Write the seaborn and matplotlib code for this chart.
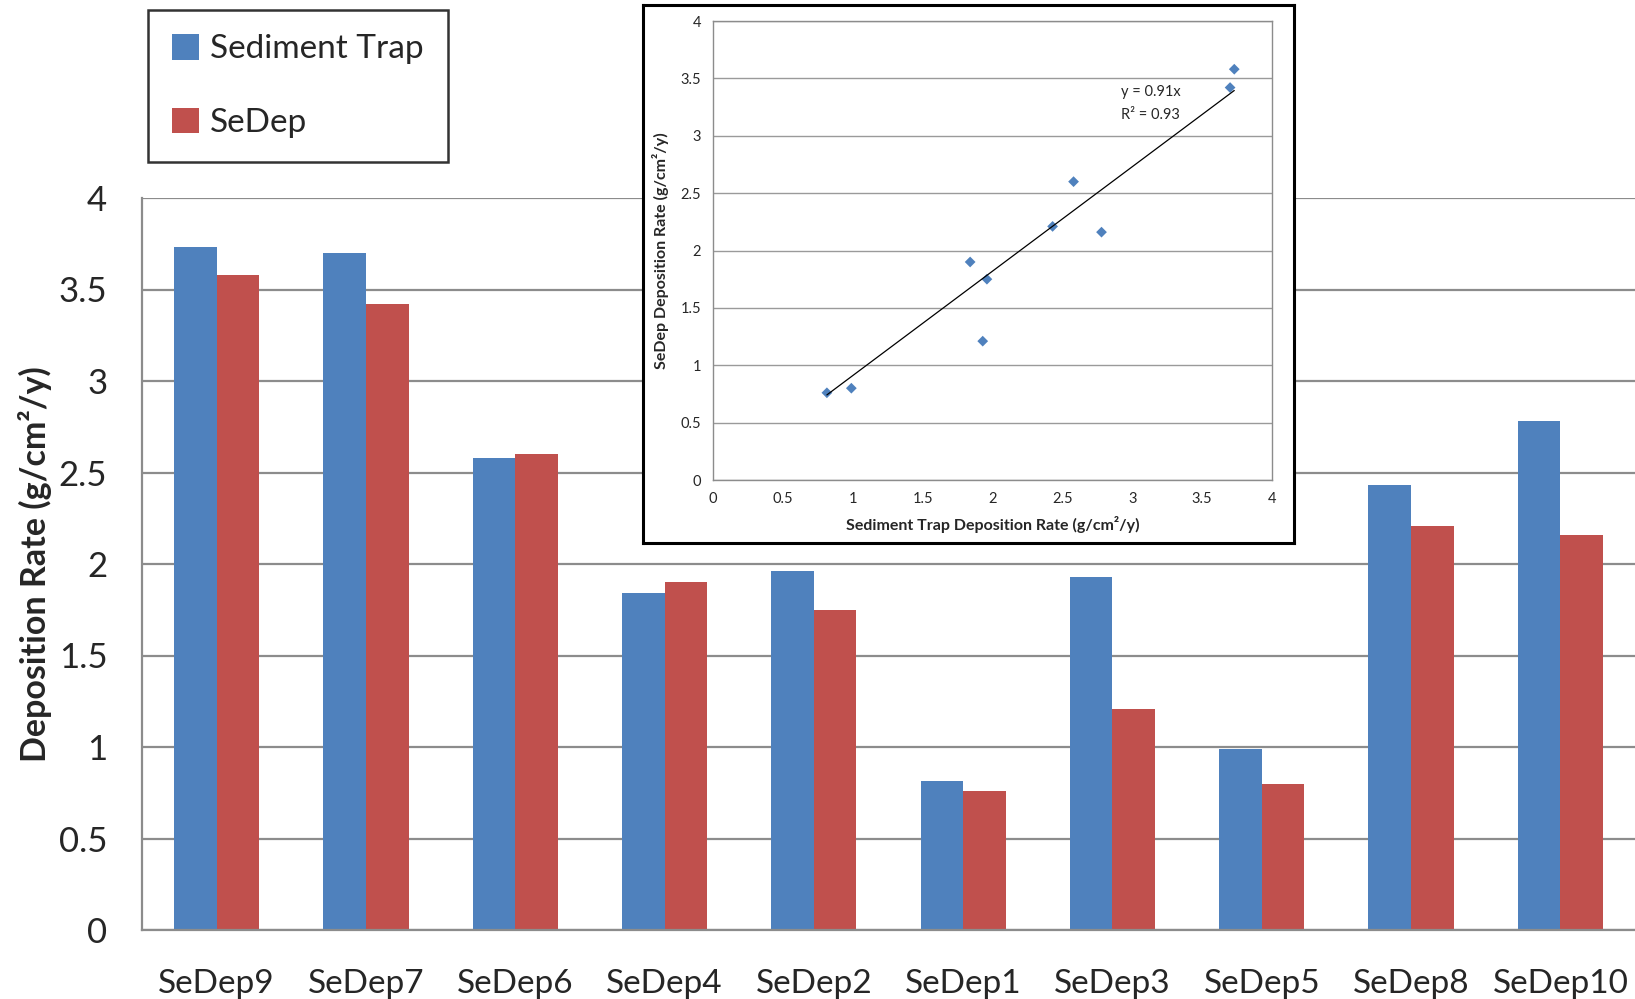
import matplotlib
matplotlib.use("Agg")
import matplotlib.pyplot as plt
import seaborn as sns
import pandas as pd
import numpy as np
from matplotlib.patches import Patch

sites = ["SeDep9", "SeDep7", "SeDep6", "SeDep4", "SeDep2",
         "SeDep1", "SeDep3", "SeDep5", "SeDep8", "SeDep10"]
sediment_trap = [3.73, 3.70, 2.58, 1.84, 1.96, 0.815, 1.93, 0.99, 2.43, 2.78]
sedep = [3.58, 3.42, 2.60, 1.90, 1.75, 0.76, 1.21, 0.80, 2.21, 2.16]
series_names = ["Sediment Trap", "SeDep"]
colors = ["#4F81BD", "#C0504D"]
y_ticks = [0, 0.5, 1, 1.5, 2, 2.5, 3, 3.5, 4]
fit_slope = 0.91
fit_r2 = 0.93

sns.set_style("white")
plt.rcParams["font.family"] = ["Lato", "DejaVu Sans"]

df = pd.DataFrame({
    "site": sites * 2,
    "rate": sediment_trap + sedep,
    "series": [series_names[0]] * len(sites) + [series_names[1]] * len(sites),
})

W, H = 1635, 999
fig = plt.figure(figsize=(W / 100, H / 100), dpi=100)

def fig_rect(x0, y0, x1, y1):
    return [x0 / W, (H - y1) / H, (x1 - x0) / W, (y1 - y0) / H]

ax = fig.add_axes(fig_rect(142, 198, 1635, 930))
sns.barplot(data=df, x="site", y="rate", hue="series", palette=colors,
            width=0.57, ax=ax, legend=False, saturation=1, errorbar=None,
            edgecolor="none")
ax.set_ylim(0, 4)
ax.set_xlim(-0.5, len(sites) - 0.5)
ax.set_yticks(y_ticks)
ax.set_yticklabels([f"{t:g}" for t in y_ticks], fontsize=25)
ax.yaxis.grid(True, color="#8c8c8c", linewidth=1.6)
ax.set_axisbelow(True)
ax.set_xlabel("")
ax.set_ylabel("Deposition Rate (g/cm²/y)", fontsize=24.5, fontweight="bold", labelpad=5)
ax.tick_params(axis="y", length=11, width=1.5, color="#8c8c8c", direction="out", pad=14)
ax.tick_params(axis="x", which="major", length=0, labelsize=24, pad=28)
ax.set_xticks(np.arange(-0.5, len(sites), 1.0), minor=True)
ax.tick_params(axis="x", which="minor", length=10, width=1.5, color="#8c8c8c", direction="out")
for s in ["top", "right"]:
    ax.spines[s].set_visible(False)
for s in ["left", "bottom"]:
    ax.spines[s].set_color("#8c8c8c")
    ax.spines[s].set_linewidth(1.6)

handles = [Patch(facecolor=c, edgecolor="none") for c in colors]
leg = fig.legend(handles, series_names, loc="upper left",
                 bbox_to_anchor=(148 / W, 1 - 10 / H), fontsize=24,
                 frameon=True, fancybox=False, edgecolor="black",
                 handlelength=0.8, handleheight=0.8, labelspacing=1.3,
                 borderpad=0.72, handletextpad=0.35, borderaxespad=0)
leg.get_frame().set_linewidth(1.8)

# frame around inset
frame = fig.add_axes(fig_rect(643, 5, 1294, 543))
frame.set_xticks([]); frame.set_yticks([])
frame.set_facecolor("white")
for s in frame.spines.values():
    s.set_color("black"); s.set_linewidth(2.2)

ins = fig.add_axes(fig_rect(713, 21, 1272, 480))
sns.scatterplot(x=sediment_trap, y=sedep, marker="D", color=colors[0],
                s=30, edgecolor="none", ax=ins)
xs = np.array([min(sediment_trap), max(sediment_trap)])
sns.lineplot(x=xs, y=fit_slope * xs, color="black", linewidth=0.9, ax=ins)
ins.set_xlim(0, 4); ins.set_ylim(0, 4)
ins.set_xticks(y_ticks); ins.set_yticks(y_ticks)
ins.set_xticklabels([f"{t:g}" for t in y_ticks], fontsize=10.5)
ins.set_yticklabels([f"{t:g}" for t in y_ticks], fontsize=10.5)
ins.yaxis.grid(True, color="#9a9a9a", linewidth=1.0)
ins.set_axisbelow(True)
ins.tick_params(axis="both", length=5, color="#8c8c8c", direction="out")
for s in ins.spines.values():
    s.set_color("#8c8c8c"); s.set_linewidth(1.0)
ins.set_xlabel("Sediment Trap Deposition Rate (g/cm²/y)", fontsize=11.5, fontweight="bold", labelpad=7)
ins.set_ylabel("SeDep Deposition Rate (g/cm²/y)", fontsize=11.5, fontweight="bold", labelpad=8)
ins.text(2.92, 3.28, f"y = {fit_slope}x\nR² = {fit_r2}", fontsize=10.5, linespacing=1.8, va="center")

fig.savefig("out.png", dpi=100)
